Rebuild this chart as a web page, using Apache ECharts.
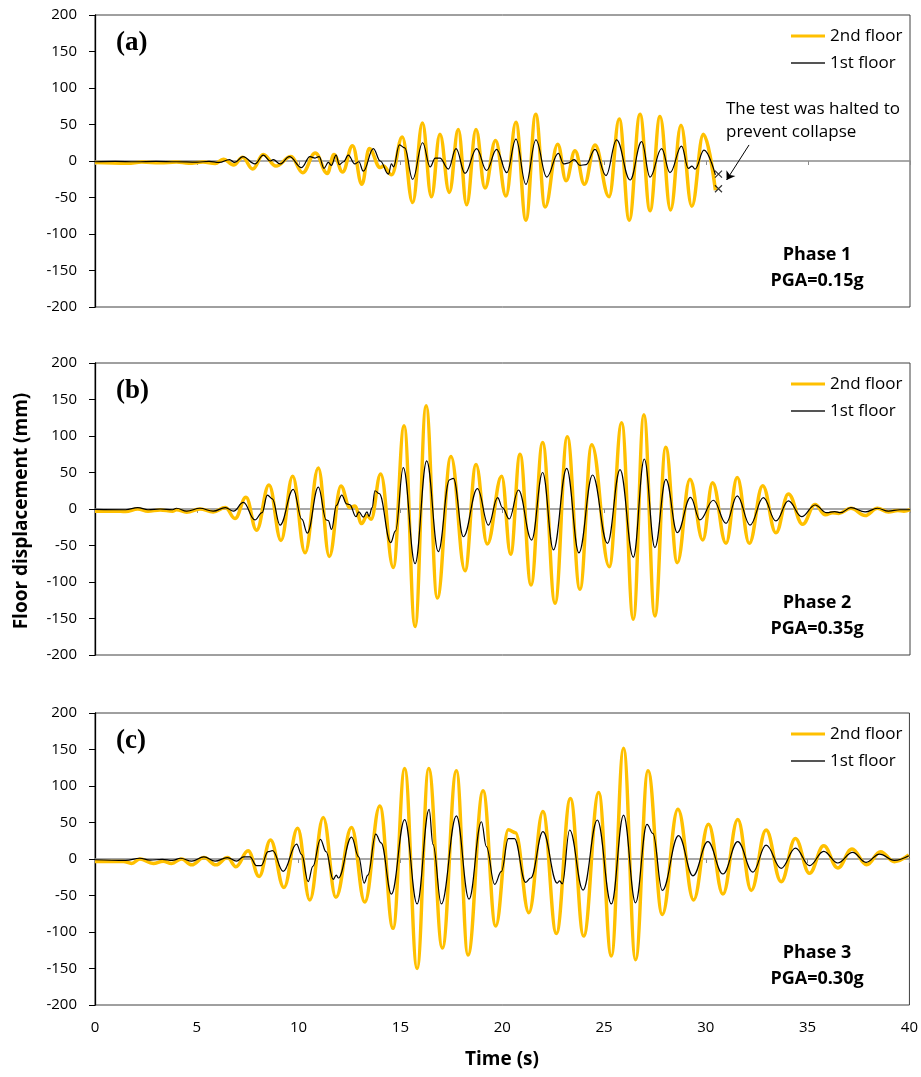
<!DOCTYPE html>
<html><head><meta charset="utf-8">
<script src="https://cdn.jsdelivr.net/npm/echarts@6/dist/echarts.min.js"></script>
<style>html,body{margin:0;padding:0;background:#fff}#chart{width:921px;height:1077px}</style>
</head><body><div id="chart"></div>
<script>
// ---------------- data ----------------
const seriesNames = ['2nd floor', '1st floor'];
const panelLetters = ['(a)', '(b)', '(c)'];
const phaseLabels = ['Phase 1\nPGA=0.15g', 'Phase 2\nPGA=0.35g', 'Phase 3\nPGA=0.30g'];
const timeRange = [0, 40];
const timeStep = 5;
const dispRange = [-200, 200];
const dispStep = 50;
const xTitle = 'Time (s)';
const yTitle = 'Floor displacement (mm)';

// Phase 1 — [time (s), displacement (mm)]
const phase1Floor2 = [[0,-2],[1.6,-3],[2.3,-1.5],[3.2,-2.5],[4.0,-1.5],[4.6,-3],[5.3,-1.5],[5.9,-3.5],[6.3,2.5],[6.8,-5.5],[7.25,5],[7.74,-11],[8.26,9],[8.88,-7],[9.62,6],[10.19,-16],[10.81,11],[11.40,-17],[11.73,9],[12.15,-15],[12.64,21],[13.10,-32],[13.46,17],[14.0,-9],[14.15,-7],[14.56,-19],[15.08,33],[15.59,-57],[16.07,52],[16.51,-49],[16.93,36.5],[17.39,-43],[17.83,43],[18.24,-60],[18.70,43],[19.14,-37],[19.66,28],[20.17,-48],[20.66,53],[21.15,-81],[21.63,64],[22.09,-63],[22.71,23],[23.12,-27],[23.56,14],[24.02,-32],[24.54,22],[25.23,-49],[25.73,57.5],[26.22,-81],[26.75,64],[27.24,-68],[27.73,61],[28.25,-67],[28.76,49],[29.29,-62],[29.86,36.5],[30.45,-40]];
const phase1Floor1 = [[0,-1],[1.0,-0.5],[2.0,-1],[3.0,-0.5],[4.0,-1],[5.0,-1.5],[5.6,-0.5],[6.1,-2],[6.6,2],[6.85,-2],[7.26,6],[7.85,-4],[8.26,8],[8.6,0],[8.75,2],[9.08,-4],[9.54,6],[10.14,-9],[10.55,6],[10.8,4],[11.0,6],[11.24,-10],[11.45,-2],[11.6,-6],[11.83,8],[11.99,-5],[12.2,-1],[12.43,8],[12.75,-4],[12.95,-1],[13.17,-14],[13.66,17],[14.0,0],[14.40,-18],[14.55,-4],[14.65,-8],[14.94,22],[15.2,18],[15.59,-25],[16.08,25],[16.45,-8],[16.7,4],[16.93,4],[17.34,-11],[17.72,17],[18.16,-17],[18.73,17],[19.22,-13],[19.71,16],[20.21,-16],[20.66,30],[21.15,-32],[21.64,29],[22.17,-22],[22.74,10.5],[23.0,-4],[23.2,-3],[23.52,2],[23.8,-6],[24.1,-5],[24.54,16],[25.08,-20],[25.60,29],[26.26,-26],[26.83,26.5],[27.24,-22],[27.81,17],[28.22,-16],[28.79,20.5],[29.12,-10],[29.3,-7],[29.45,-11],[29.89,15],[30.45,-19]];

// Phase 2
const phase2Floor2 = [[0,-3],[1.0,-3],[1.5,-3.5],[2.1,0],[2.6,-3],[3.2,-1.5],[3.8,-3],[4.0,-1],[4.5,-4.5],[5.15,0],[5.8,-4],[6.4,2],[6.87,-13],[7.41,16],[7.93,-29],[8.54,33],[9.13,-43],[9.70,45],[10.31,-60],[10.96,56],[11.50,-65],[12.07,31.5],[12.5,2],[12.75,4],[13.09,-20],[13.35,-9],[13.55,-14],[14.02,48],[14.64,-80],[15.17,114],[15.71,-161],[16.25,141.5],[16.80,-122],[17.47,72],[18.16,-84.5],[18.70,61],[19.25,-48],[19.96,45],[20.40,-62],[20.86,75],[21.40,-104],[21.97,91],[22.58,-129],[23.18,99],[23.80,-110],[24.38,88],[25.24,-79],[25.85,118],[26.42,-151],[26.94,129],[27.48,-146.6],[28.01,84.5],[28.58,-73.5],[29.20,40.6],[29.83,-42.5],[30.31,36],[30.97,-47],[31.52,43],[32.11,-47],[32.77,32],[33.42,-32.5],[34.03,20.5],[34.73,-21],[35.34,6],[35.85,-8],[36.2,-5],[36.5,-6],[37.1,1],[37.8,-9],[38.4,1],[38.94,-4],[39.4,-2],[39.7,-3],[40,-1]];
const phase2Floor1 = [[0,-0.5],[1.5,-1],[2.1,2],[2.6,-1],[3.2,0],[3.8,-1],[4.0,1],[4.5,-3],[5.15,1],[5.8,-3],[6.4,2],[6.8,-3],[7.28,9],[7.85,-15],[8.2,-5],[8.46,19],[8.7,14],[9.08,-22],[9.73,27],[10.15,-14],[10.42,-33],[10.96,30],[11.35,-15],[11.45,-16],[11.61,-28],[11.85,5],[12.11,19],[12.35,7],[12.5,6],[12.81,-10.5],[12.95,-4],[13.17,-11],[13.35,-4],[13.45,-10],[13.6,2],[13.74,25],[13.95,21],[14.51,-46],[14.75,-30],[15.13,56.6],[15.71,-75],[16.28,66],[16.85,-58.5],[17.4,40],[17.59,42],[18.08,-38],[18.77,28],[19.31,-22],[19.76,15.5],[20.0,2],[20.33,-13.7],[20.78,26],[21.43,-42.5],[21.97,50],[22.50,-56],[23.15,55.7],[23.75,-60],[24.42,46.6],[25.15,-47],[25.77,54],[26.42,-66],[26.96,68.5],[27.48,-53],[28.02,40.6],[28.58,-32.4],[29.23,16],[29.69,-15],[30.35,12],[30.97,-19.6],[31.52,18],[32.15,-22],[32.80,15.5],[33.42,-16.4],[34.03,11],[34.68,-10.5],[35.34,5.5],[35.91,-5],[36.3,-3.5],[36.6,-5],[37.1,2],[37.8,-4],[38.4,1],[38.94,-3],[39.5,-1],[40,-1]];

// Phase 3
const phase3Floor2 = [[0,-3.5],[1.4,-3.5],[1.8,-6],[2.2,0],[2.86,-6],[3.35,-3],[3.76,-6],[4.25,0],[4.75,-8],[5.35,2],[5.94,-8],[6.51,2],[6.92,-10.5],[7.52,11.4],[8.06,-24],[8.62,26],[9.28,-39],[9.95,42],[10.55,-56],[11.21,57],[11.83,-52.5],[12.60,43],[13.25,-59],[13.99,72.6],[14.64,-95],[15.21,124],[15.82,-150],[16.39,124],[17.06,-122],[17.75,121],[18.32,-131.5],[19.06,93.6],[19.68,-91.8],[20.3,40],[20.65,36],[21.31,-73.5],[22.00,65],[22.66,-102],[23.35,83],[24.00,-105.5],[24.74,91],[25.36,-133],[25.96,151.6],[26.55,-138],[27.16,121],[27.86,-76],[28.63,68],[29.40,-56],[30.13,47.5],[30.84,-48],[31.57,54],[32.23,-43],[32.96,39.7],[33.70,-31],[34.40,28],[35.09,-19.6],[35.79,18],[36.48,-12.3],[37.18,13.7],[37.90,-7.8],[38.58,10],[39.26,-3.6],[39.97,5.5]];
const phase3Floor1 = [[0,-1],[1.5,-2],[2.2,1],[2.7,-1.5],[3.3,-0.5],[3.8,-2],[4.2,1],[4.75,-3],[5.35,3],[5.9,-3],[6.5,2],[6.95,-3],[7.3,3],[7.61,3],[7.93,-9],[8.16,-9],[8.5,10],[8.72,11.4],[9.24,-17],[9.90,20.5],[10.15,6],[10.47,-31],[10.7,-10],[11.07,27],[11.35,10],[11.70,-28],[11.85,-22],[11.95,-26],[12.60,30],[12.95,3],[13.22,-33],[13.4,-22],[13.79,34],[14.05,22],[14.56,-48],[15.21,54],[15.82,-61.6],[16.41,68],[16.6,20],[17.01,-61.6],[17.75,59],[18.37,-55],[18.98,51],[19.22,17],[19.63,-34.7],[19.96,-17],[20.3,28],[20.6,28],[21.15,-32],[21.4,-26],[22.00,37.4],[22.7,-33],[22.82,-30],[22.95,-34],[23.31,39.7],[23.97,-42.5],[24.67,53.4],[25.36,-61.6],[25.96,60],[26.55,-60],[27.11,47.5],[27.4,35],[27.86,-43],[28.66,32],[29.37,-23],[30.10,23.7],[30.84,-20.5],[31.57,23.7],[32.31,-18],[32.96,19],[33.70,-12.8],[34.40,15],[35.09,-9],[35.79,10.5],[36.48,-5.5],[37.21,9],[37.87,-4.6],[38.53,6.8],[39.26,-1.8],[39.97,4.5]];

// Phase 1 halt annotation
const haltMarks = [[30.6,-18],[30.6,-38]];
const haltArrow = [[32.1,22],[31.0,-26]];
const haltNote = 'The test was halted to\nprevent collapse';

const floor2Data = [phase1Floor2, phase2Floor2, phase3Floor2];
const floor1Data = [phase1Floor1, phase2Floor1, phase3Floor1];

// ---------------- layout & style ----------------
const GRID_LEFT = 95, GRID_W = 815, GRID_H = 292;
const gridTops = [15, 363, 713];
const ORANGE = '#FFC000';
const SANS = '"Open Sans", "Noto Sans", sans-serif';

const grids = [], xAxes = [], yAxes = [], series = [], legends = [], graphics = [];

gridTops.forEach((top, i) => {
  grids.push({ left: GRID_LEFT, top: top, width: GRID_W, height: GRID_H, show: true,
    borderColor: '#404040', borderWidth: 1, backgroundColor: 'transparent', containLabel: false });

  // bottom axis: labels only
  xAxes.push({ gridIndex: i, type: 'value', min: timeRange[0], max: timeRange[1], interval: timeStep,
    position: 'bottom', axisLine: { show: false, onZero: false }, axisTick: { show: false },
    splitLine: { show: false },
    axisLabel: { show: i === 2, fontSize: 15, fontFamily: SANS, color: '#000', margin: 15 } });
  // zero line axis with ticks
  xAxes.push({ gridIndex: i, type: 'value', min: timeRange[0], max: timeRange[1], interval: timeStep,
    position: 'top', axisLine: { show: true, onZero: true, lineStyle: { color: '#8c8c8c', width: 1.5 } },
    axisTick: { show: true, inside: true, length: 4, lineStyle: { color: '#8c8c8c', width: 1 } },
    axisLabel: { show: false }, splitLine: { show: false } });

  yAxes.push({ gridIndex: i, type: 'value', min: dispRange[0], max: dispRange[1], interval: dispStep,
    axisLine: { show: true, onZero: false, lineStyle: { color: '#000', width: 1.3 } },
    axisTick: { show: true, length: 6, lineStyle: { color: '#000', width: 1 } },
    splitLine: { show: false },
    axisLabel: { fontSize: 15, fontFamily: SANS, color: '#000', margin: 18 } });

  series.push({ name: seriesNames[0], type: 'line', xAxisIndex: 2 * i, yAxisIndex: i,
    data: floor2Data[i], showSymbol: false, symbol: 'none', smooth: 0.4, smoothMonotone: 'x',
    lineStyle: { color: ORANGE, width: 3.5 }, itemStyle: { color: ORANGE }, z: 2, silent: true, animation: false });
  series.push({ name: seriesNames[1], type: 'line', xAxisIndex: 2 * i, yAxisIndex: i,
    data: floor1Data[i], showSymbol: false, symbol: 'none', smooth: 0.4, smoothMonotone: 'x',
    lineStyle: { color: '#000', width: 1.2 }, itemStyle: { color: '#000' }, z: 3, silent: true, animation: false });

  legends.push({ data: [seriesNames[0]], left: 791, top: top + 11, padding: 0, icon: 'rect',
    itemWidth: 34, itemHeight: 3, selectedMode: false,
    textStyle: { fontSize: 17, fontFamily: SANS, color: '#000', lineHeight: 20 } });
  legends.push({ data: [{ name: seriesNames[1], itemStyle: { color: '#555' } }], left: 791, top: top + 38, padding: 0, icon: 'rect',
    itemWidth: 34, itemHeight: 2, selectedMode: false,
    textStyle: { fontSize: 17, fontFamily: SANS, color: '#000', lineHeight: 20 } });

  graphics.push({ type: 'text', left: 116, top: top + 15, silent: true,
    style: { text: panelLetters[i], font: 'bold 27px "Liberation Serif", serif', fill: '#000' } });
  graphics.push({ type: 'text', x: 817, y: top + 227, silent: true,
    style: { text: phaseLabels[i], font: 'bold 18px ' + SANS, fill: '#000', textAlign: 'center',
      textVerticalAlign: 'top', lineHeight: 26 } });
});

// halt markers + arrow on phase 1
series.push({ name: 'halt', type: 'scatter', xAxisIndex: 0, yAxisIndex: 0, data: haltMarks,
  symbol: 'path://M0,0L10,10M10,0L0,10', symbolSize: 7,
  itemStyle: { color: 'none', borderColor: '#000', borderWidth: 1.2 }, z: 4, silent: true, animation: false,
  markLine: { silent: true, symbol: ['none', 'arrow'], symbolSize: 8, animation: false,
    lineStyle: { color: '#000', width: 1, type: 'solid' }, label: { show: false },
    data: [[{ coord: haltArrow[0] }, { coord: haltArrow[1] }]] } });

graphics.push({ type: 'text', left: 726, top: 98, silent: true,
  style: { text: haltNote, font: '17px ' + SANS, fill: '#000', lineHeight: 23 } });
graphics.push({ type: 'text', x: 22, y: 511, rotation: Math.PI / 2, silent: true,
  style: { text: yTitle, font: 'bold 19px ' + SANS, fill: '#000', textAlign: 'center', textVerticalAlign: 'middle' } });
graphics.push({ type: 'text', x: 502, y: 1060, silent: true,
  style: { text: xTitle, font: 'bold 19px ' + SANS, fill: '#000', textAlign: 'center', textVerticalAlign: 'middle' } });

const chart = echarts.init(document.getElementById('chart'), null, { renderer: 'canvas' });
chart.setOption({
  animation: false,
  backgroundColor: '#fff',
  grid: grids, xAxis: xAxes, yAxis: yAxes, legend: legends, series: series, graphic: graphics
});
</script></body></html>
